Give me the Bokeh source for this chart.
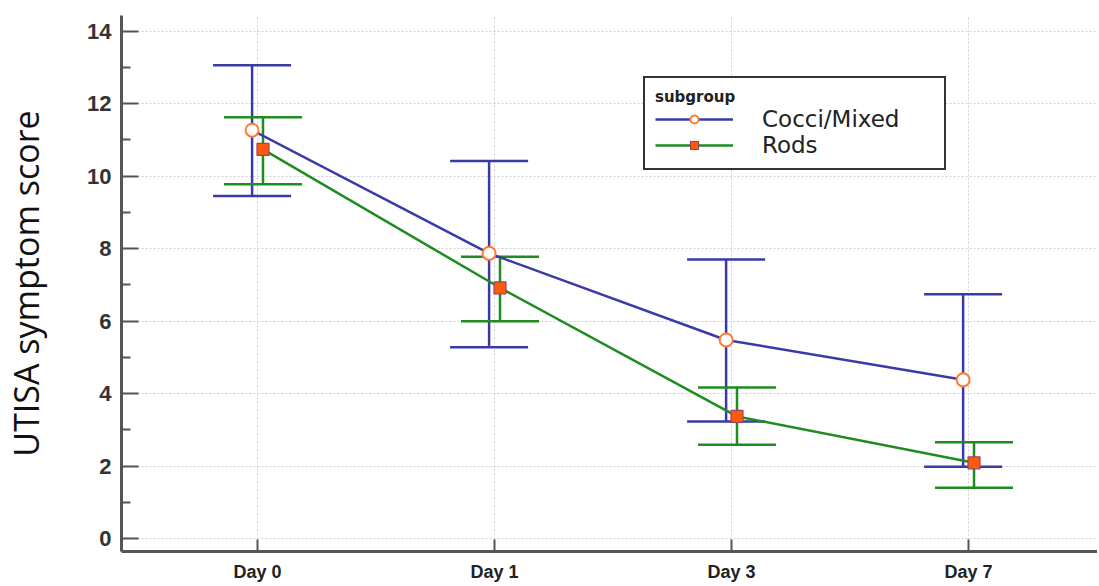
import numpy as np
from bokeh.plotting import figure
from bokeh.models import (ColumnDataSource, Whisker, TeeHead, FixedTicker, Range1d,
                          Legend, LegendItem)
from bokeh.embed import file_html
from bokeh.resources import INLINE

# ---- data ----
days = ["Day 0", "Day 1", "Day 3", "Day 7"]

cocci_mean = [11.27, 7.87, 5.48, 4.38]
cocci_low = [9.45, 5.28, 3.23, 1.98]
cocci_high = [13.06, 10.42, 7.70, 6.74]

rods_mean = [10.74, 6.92, 3.37, 2.09]
rods_low = [9.78, 6.00, 2.59, 1.40]
rods_high = [11.63, 7.78, 4.17, 2.66]

y_ticks = [0, 2, 4, 6, 8, 10, 12, 14]
y_minor = [1, 3, 5, 7, 9, 11, 13]

# ---- styling ----
BLUE = "#3a3aa6"
GREEN = "#1e8c1e"
ORANGE = "#ff7a2e"
SQ_FILL = "#ff5a0a"
SQ_LINE = "#a0406a"
AXIS = "#555555"

idx = np.arange(len(days))
dodge = 0.023
src_c = ColumnDataSource(dict(x=idx - dodge, y=cocci_mean, lo=cocci_low, hi=cocci_high))
src_r = ColumnDataSource(dict(x=idx + dodge, y=rods_mean, lo=rods_low, hi=rods_high))

p = figure(width=1097, height=584, output_backend="svg", toolbar_location=None,
           x_range=Range1d(-0.574, 3.544), y_range=Range1d(-0.358, 14.435),
           min_border_left=121, min_border_right=0, min_border_top=15,
           min_border_bottom=32)
p.outline_line_color = None
p.background_fill_color = "white"
p.border_fill_color = "white"

# grids
p.xgrid.ticker = FixedTicker(ticks=list(idx))
p.ygrid.ticker = FixedTicker(ticks=y_ticks)
for g in (p.xgrid, p.ygrid):
    g.grid_line_color = "#cfcfcf"
    g.grid_line_dash = "2 2"
    g.grid_line_width = 1

# x axis
xa = p.xaxis[0]
xa.ticker = FixedTicker(ticks=list(idx))
xa.major_label_overrides = {int(i): d for i, d in zip(idx, days)}
xa.major_tick_in = 12
xa.major_tick_out = 0
xa.major_label_text_font = "Liberation Sans"
xa.major_label_text_font_style = "bold"
xa.major_label_text_font_size = "18px"
xa.major_label_text_color = "#222222"
xa.major_label_standoff = 10

# y axis
ya = p.yaxis[0]
ya.ticker = FixedTicker(ticks=y_ticks, minor_ticks=y_minor)
ya.major_tick_in = 17
ya.major_tick_out = 0
ya.minor_tick_in = 9
ya.minor_tick_out = 0
ya.major_label_text_font = "Liberation Sans"
ya.major_label_text_font_style = "bold"
ya.major_label_text_font_size = "22px"
ya.major_label_text_color = "#333333"
ya.major_label_standoff = 10
ya.axis_label = "UTISA symptom score"
ya.axis_label_text_font = "Open Sans"
ya.axis_label_text_font_style = "normal"
ya.axis_label_text_font_size = "34px"
ya.axis_label_text_color = "#111111"
ya.axis_label_standoff = 35

for a in (xa, ya):
    a.axis_line_color = AXIS
    a.axis_line_width = 3
    a.major_tick_line_color = AXIS
    a.major_tick_line_width = 2
    a.minor_tick_line_width = 2
xa.minor_tick_line_color = None
ya.minor_tick_line_color = AXIS

# error bars
for src, col in ((src_c, BLUE), (src_r, GREEN)):
    w = Whisker(source=src, base="x", upper="hi", lower="lo", dimension="height",
                line_color=col, line_width=2.5,
                upper_head=TeeHead(size=78, line_color=col, line_width=2.5),
                lower_head=TeeHead(size=78, line_color=col, line_width=2.5))
    p.add_layout(w)

# lines and markers
lc = p.line("x", "y", source=src_c, line_color=BLUE, line_width=2.5)
lr = p.line("x", "y", source=src_r, line_color=GREEN, line_width=2.5)
mc = p.scatter("x", "y", source=src_c, marker="circle", size=13,
               fill_color="white", line_color=ORANGE, line_width=2)
mr = p.scatter("x", "y", source=src_r, marker="square", size=12,
               fill_color=SQ_FILL, line_color=SQ_LINE, line_width=1.2)

legend = Legend(items=[LegendItem(label="Cocci/Mixed", renderers=[lc, mc]),
                       LegendItem(label="Rods", renderers=[lr, mr])],
                location=(522, 381), title="subgroup")
legend.title_text_font = "DejaVu Sans"
legend.title_text_font_style = "bold"
legend.title_text_font_size = "15px"
legend.title_text_color = "#222222"
legend.title_standoff = 0
legend.label_text_font = "DejaVu Sans"
legend.label_text_font_size = "23px"
legend.label_text_color = "#222222"
legend.glyph_width = 78
legend.glyph_height = 20
legend.label_height = 20
legend.label_width = 172
legend.label_standoff = 29
legend.spacing = 0
legend.padding = 10
legend.border_line_color = "#333333"
legend.border_line_alpha = 1.0
legend.border_line_width = 2
legend.background_fill_color = "white"
legend.background_fill_alpha = 1
p.add_layout(legend)

open("out.html", "w").write(file_html(p, INLINE))
